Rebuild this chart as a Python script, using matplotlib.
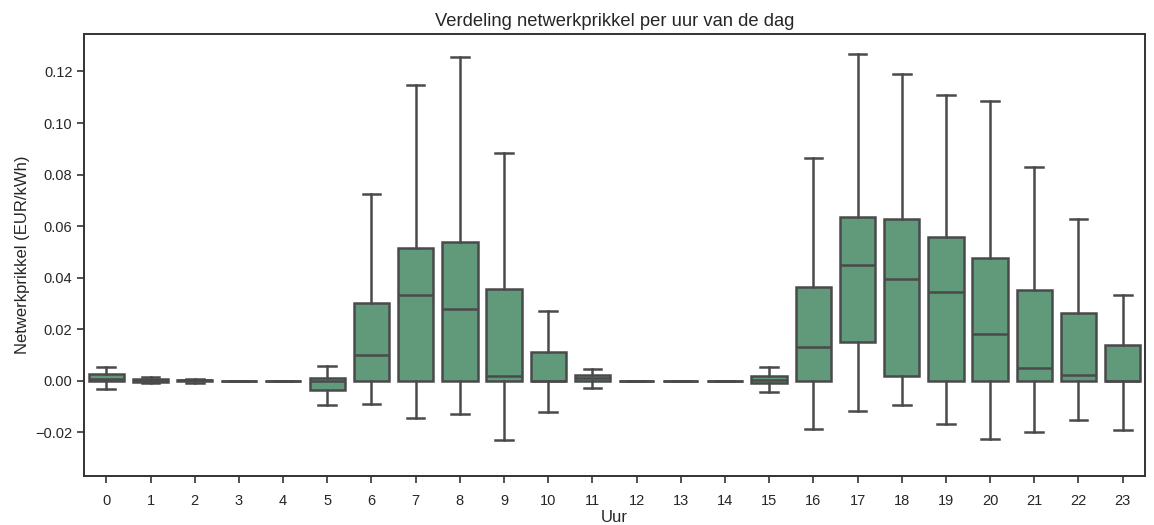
import matplotlib
matplotlib.use("Agg")
import matplotlib.pyplot as plt

plt.rcParams["font.family"] = ["Liberation Sans", "DejaVu Sans"]

# hourly box statistics (EUR/kWh)
hours = list(range(24))
whislo = [-0.003, -0.001, -0.0008, 0.0, 0.0, -0.0095, -0.009, -0.0145, -0.0128, -0.0229, -0.012, -0.0026,
          0.0, 0.0, 0.0, -0.0045, -0.0187, -0.0117, -0.0092, -0.0167, -0.0226, -0.0199, -0.0154, -0.019]
q1 = [0.0, -0.0003, 0.0, 0.0, 0.0, -0.0035, 0.0, 0.0, 0.0, 0.0, 0.0, 0.0,
      0.0, 0.0, 0.0, -0.0009, 0.0, 0.015, 0.0019, 0.0, 0.0, 0.0, 0.0, 0.0]
med = [0.0008, 0.0003, 0.0002, 0.0, 0.0, 0.0, 0.0102, 0.0333, 0.0279, 0.0017, 0.0, 0.0012,
       0.0, 0.0, 0.0, 0.0002, 0.0133, 0.0449, 0.0396, 0.0343, 0.0183, 0.0049, 0.0023, 0.0]
q3 = [0.0025, 0.0008, 0.0005, 0.0, 0.0, 0.0011, 0.0302, 0.0514, 0.0537, 0.0357, 0.011, 0.0022,
      0.0, 0.0, 0.0, 0.002, 0.0365, 0.0636, 0.0629, 0.0559, 0.0475, 0.0352, 0.0263, 0.0137]
whishi = [0.0052, 0.0015, 0.0008, 0.0, 0.0, 0.0059, 0.0723, 0.1146, 0.1256, 0.0884, 0.0272, 0.0047,
          0.0, 0.0, 0.0, 0.0052, 0.0863, 0.1269, 0.1192, 0.1107, 0.1086, 0.0831, 0.0629, 0.0334]

stats = [
    {"whislo": lo, "q1": a, "med": m, "q3": b, "whishi": hi, "label": str(h)}
    for h, lo, a, m, b, hi in zip(hours, whislo, q1, med, q3, whishi)
]

fill = "#609a7b"
edge = "#4a4a4a"
lw = 1.8

fig = plt.figure(figsize=(11.54, 5.25), dpi=100)
ax = fig.add_axes([0.073, 0.093, 0.919, 0.842])

ax.bxp(
    stats, positions=hours, widths=0.8, capwidths=0.4, patch_artist=True, showfliers=False,
    boxprops=dict(facecolor=fill, edgecolor=edge, linewidth=lw),
    medianprops=dict(color=edge, linewidth=lw),
    whiskerprops=dict(color=edge, linewidth=lw),
    capprops=dict(color=edge, linewidth=lw),
)

ax.set_xlim(-0.5, 23.5)
ax.set_ylim(-0.037, 0.1345)
ax.set_yticks([-0.02, 0.0, 0.02, 0.04, 0.06, 0.08, 0.10, 0.12])
ax.set_yticklabels(["\u22120.02", "0.00", "0.02", "0.04", "0.06", "0.08", "0.10", "0.12"])
ax.tick_params(direction="out", length=5, width=1.2, color="#333333", labelsize=10.5, labelcolor="#262626")
ax.tick_params(axis="x", pad=8)
for s in ax.spines.values():
    s.set_color("#333333")
    s.set_linewidth(1.4)

ax.set_title("Verdeling netwerkprikkel per uur van de dag", fontsize=13.2, color="#262626", pad=6)
ax.set_xlabel("Uur", fontsize=12, color="#262626", labelpad=1)
ax.set_ylabel("Netwerkprikkel (EUR/kWh)", fontsize=12, color="#262626")

fig.savefig("out.png", dpi=100)
